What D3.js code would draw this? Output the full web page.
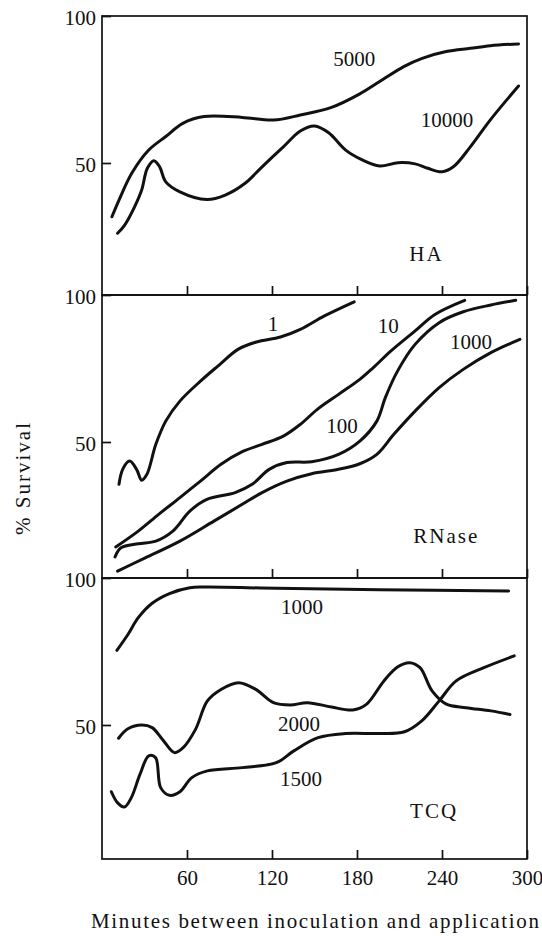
<!DOCTYPE html>
<html>
<head>
<meta charset="utf-8">
<script src="https://cdn.jsdelivr.net/npm/d3@7"></script>
<style>
  body { margin: 0; background: #fff; }
  svg { display: block; font-family: "Liberation Serif", "DejaVu Serif", serif; }
</style>
</head>
<body>
<div class="chart"></div>
<script>
// x ticks (minutes) and y ticks (% survival)
const minuteTicks = [60, 120, 180, 240, 300];
const survivalTicks = [50, 100];

// HA panel
const ha5000Min = [7, 12, 21, 33, 45, 57, 72, 99, 121, 140, 162, 182, 196, 213, 226, 243, 260, 274, 294];
const ha5000Val = [31.7, 37.4, 46.5, 54.4, 59, 63.5, 65.8, 65.5, 64.6, 66.3, 68.9, 73.5, 77.7, 82.8, 85.6, 87.9, 89, 89.9, 90.5];
const ha10000Min = [11, 16, 23, 28, 32, 36.6, 40.7, 45, 55, 74, 87, 101, 113, 128, 140, 150, 160, 172, 184, 196, 209, 221, 230, 240, 248, 260, 274, 294];
const ha10000Val = [26.1, 28.9, 35.1, 40.8, 48.2, 50.8, 48.7, 43.6, 40.2, 37.6, 39.1, 43.1, 48.7, 55.5, 60.9, 62.6, 60.3, 54.4, 51, 49, 50.1, 49.7, 48.2, 47, 48.7, 55.5, 64.6, 76.2];

// RNase panel
const rn1Min = [12, 14.6, 19.5, 24.4, 28, 31.7, 38, 45, 55, 69.5, 82, 96, 109, 126, 140, 157, 178];
const rn1Val = [35.6, 40.7, 43.5, 40.7, 37, 39, 49.2, 57.1, 63.9, 70.7, 75.9, 81.5, 84, 85.7, 88.3, 92.9, 97.7];
const rn10Min = [9.7, 25.6, 40, 55, 69.5, 84, 99, 113, 128, 140, 152, 167, 182, 191.5, 204, 221, 235, 256];
const rn10Val = [14.3, 19.7, 25.4, 31.1, 36.7, 42.4, 46.7, 49.2, 52, 56, 61.1, 66.2, 71.3, 75.3, 81, 87.8, 93.4, 98.2];
const rn100Min = [9.2, 13.4, 25.6, 38, 50, 62, 74, 94, 106, 118, 130.5, 148, 167, 182, 194, 200, 208.6, 221, 238, 255, 274.5, 292];
const rn100Val = [10.9, 14, 15.4, 16.3, 19.7, 26.5, 30.5, 32.8, 35.6, 40.7, 43, 43.3, 45.8, 50.3, 57.1, 65.1, 74.1, 83.2, 90.6, 94.3, 96.6, 98.2];
const rn1000Min = [11, 30.5, 55, 79, 99, 113, 130.5, 148, 167, 182, 194, 206, 221, 238, 255, 274.5, 295];
const rn1000Val = [6.1, 10.6, 16.3, 23.1, 28.8, 32.8, 36.7, 39.2, 40.7, 42.6, 45.8, 52.6, 60.5, 68.5, 74.7, 80.4, 84.9];

// TCQ panel
const tcq1000Min = [10.5, 18.3, 25.6, 35.4, 47.6, 62, 74, 123, 196, 287];
const tcq1000Val = [75.4, 80.8, 86.5, 91.4, 94.7, 96.7, 96.9, 96.5, 96, 95.6];
const tcq2000Min = [11.7, 18.3, 28, 35.4, 42.7, 51.2, 57.3, 66, 74.4, 84, 96.4, 108.6, 121, 133, 145, 162, 177, 186.6, 199, 208.6, 217, 224.5, 233, 242.7, 257, 274.5, 288];
const tcq2000Val = [45.5, 48.7, 50, 49.1, 45.1, 40.6, 42.3, 48.5, 58.2, 62.1, 64.4, 62.1, 57.6, 56.8, 57.6, 56.1, 55.1, 57, 65, 69.7, 71.2, 69.5, 61.6, 57.2, 55.9, 54.8, 53.6];
const tcq1500Min = [6.6, 10.9, 15.8, 20.7, 26.8, 33, 37.8, 41.4, 47.6, 55, 63.4, 74.4, 99, 123, 135.4, 152.5, 172, 196, 213.5, 225.7, 238, 250, 269.6, 291];
const tcq1500Val = [27.3, 23.6, 22.1, 25.3, 33.2, 39.5, 38.9, 28.7, 26.1, 27.3, 32.1, 34.4, 35.5, 37.2, 41.2, 45.7, 47.1, 47.1, 47.7, 51.4, 58.2, 65, 69.5, 73.5];

const zip = (xs, ys) => xs.map((x, i) => [x, ys[i]]);

const panels = [
  {
    name: "HA", top: 16, height: 279, nameAt: [229, 16.7],
    series: [
      { label: "5000", data: zip(ha5000Min, ha5000Val), labelAt: [178, 83] },
      { label: "10000", data: zip(ha10000Min, ha10000Val), labelAt: [243.5, 62.2] }
    ]
  },
  {
    name: "RNase", top: 295, height: 283, nameAt: [243, 15.7],
    series: [
      { label: "1", data: zip(rn1Min, rn1Val), labelAt: [120.7, 87.8] },
      { label: "10", data: zip(rn10Min, rn10Val), labelAt: [202, 87.2] },
      { label: "100", data: zip(rn100Min, rn100Val), labelAt: [169.4, 53.2] },
      { label: "1000", data: zip(rn1000Min, rn1000Val), labelAt: [260.5, 81.6] }
    ]
  },
  {
    name: "TCQ", top: 578, height: 281, nameAt: [234.4, 18.5],
    series: [
      { label: "1000", data: zip(tcq1000Min, tcq1000Val), labelAt: [141.2, 87.7] },
      { label: "2000", data: zip(tcq2000Min, tcq2000Val), labelAt: [139.1, 48] },
      { label: "1500", data: zip(tcq1500Min, tcq1500Val), labelAt: [140.5, 29.3] }
    ]
  }
];

const width = 542, height = 936;
const ink = "#111";
const fontSize = 21;

const svg = d3.select(".chart").append("svg")
  .attr("width", width)
  .attr("height", height);

const x = d3.scaleLinear().domain([0, 300]).range([102, 527]);

panels.forEach((p, i) => {
  // 50 units = 147 px in every panel
  const y = d3.scaleLinear().domain([100, 50]).range([p.top, p.top + 147]);
  const g = svg.append("g");

  // frame
  g.append("rect")
    .attr("x", x(0))
    .attr("y", p.top)
    .attr("width", x(300) - x(0))
    .attr("height", p.height)
    .attr("fill", "none")
    .attr("stroke", ink)
    .attr("stroke-width", 1.7);

  // left axis: inward tick at 50, labels 50 and 100
  const yAxis = g.append("g")
    .attr("transform", `translate(${x(0)},0)`)
    .call(d3.axisLeft(y).tickValues(survivalTicks).tickSizeInner(-9).tickSizeOuter(0).tickPadding(6));
  yAxis.select(".domain").remove();
  yAxis.selectAll("line").attr("stroke", ink).attr("stroke-width", 1.7);
  yAxis.selectAll("text").attr("font-size", fontSize).attr("fill", ink)
    .attr("font-family", "Liberation Serif, DejaVu Serif, serif")
    .attr("dy", "0.42em");

  // upward ticks on the top edge of lower panels
  if (i > 0) {
    const tAxis = g.append("g")
      .attr("transform", `translate(0,${p.top})`)
      .call(d3.axisTop(x).tickValues(minuteTicks).tickSize(9).tickSizeOuter(0).tickFormat(""));
    tAxis.select(".domain").remove();
    tAxis.selectAll("line").attr("stroke", ink).attr("stroke-width", 1.7);
  }

  // curves
  const line = d3.line()
    .x(d => x(d[0]))
    .y(d => y(d[1]))
    .curve(d3.curveCatmullRom.alpha(0.5));

  g.selectAll("path.curve")
    .data(p.series)
    .join("path")
    .attr("class", "curve")
    .attr("d", d => line(d.data))
    .attr("fill", "none")
    .attr("stroke", ink)
    .attr("stroke-width", 3)
    .attr("stroke-linecap", "round")
    .attr("stroke-linejoin", "round");

  // curve labels
  g.selectAll("text.lbl")
    .data(p.series)
    .join("text")
    .attr("class", "lbl")
    .attr("x", d => x(d.labelAt[0]))
    .attr("y", d => y(d.labelAt[1]))
    .attr("text-anchor", "middle")
    .attr("font-size", fontSize)
    .attr("fill", ink)
    .text(d => d.label);

  // panel name
  g.append("text")
    .attr("x", x(p.nameAt[0]))
    .attr("y", y(p.nameAt[1]))
    .attr("text-anchor", "middle")
    .attr("font-size", fontSize)
    .attr("letter-spacing", 2)
    .attr("fill", ink)
    .text(p.name);

  // bottom axis on the last panel
  if (i === panels.length - 1) {
    const xAxis = g.append("g")
      .attr("transform", `translate(0,${p.top + p.height})`)
      .call(d3.axisBottom(x).tickValues(minuteTicks).tickSizeInner(-9).tickSizeOuter(0).tickPadding(11));
    xAxis.select(".domain").remove();
    xAxis.selectAll("line").attr("stroke", ink).attr("stroke-width", 1.7);
    xAxis.selectAll("text").attr("font-size", fontSize).attr("fill", ink)
      .attr("font-family", "Liberation Serif, DejaVu Serif, serif");
  }
});

// axis titles
svg.append("text")
  .attr("transform", "translate(30,479) rotate(-90)")
  .attr("text-anchor", "middle")
  .attr("font-size", fontSize)
  .attr("textLength", 112)
  .attr("lengthAdjust", "spacing")
  .attr("fill", ink)
  .text("% Survival");

svg.append("text")
  .attr("x", 91)
  .attr("y", 928)
  .attr("font-size", fontSize)
  .attr("textLength", 448)
  .attr("lengthAdjust", "spacing")
  .attr("fill", ink)
  .text("Minutes between inoculation and application");
</script>
</body>
</html>
